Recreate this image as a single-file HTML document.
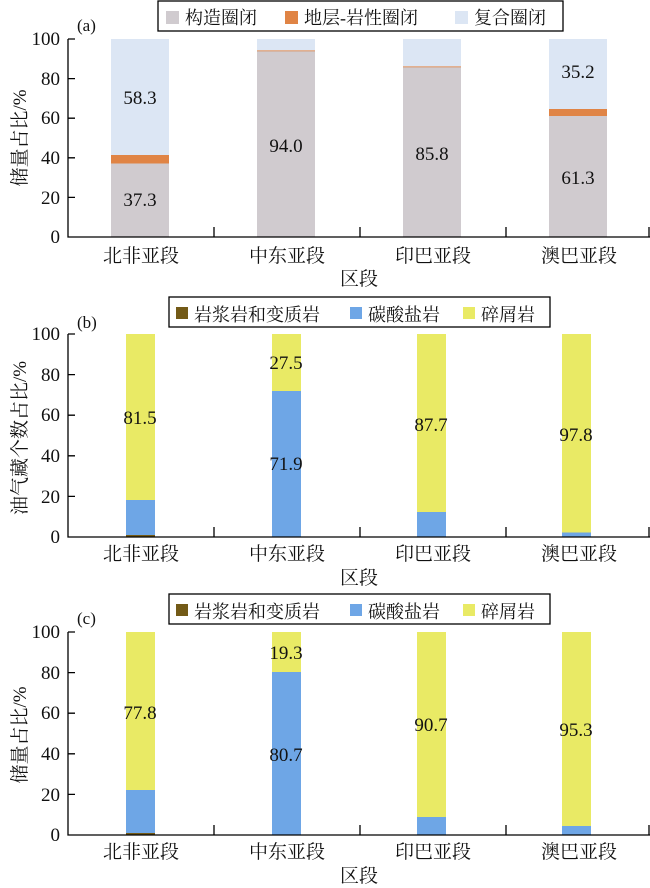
<!DOCTYPE html>
<html><head><meta charset="utf-8"><style>
html,body{margin:0;padding:0;background:#fff;}
svg{display:block;}
</style></head><body>
<svg width="650" height="888" viewBox="0 0 650 888" xmlns="http://www.w3.org/2000/svg" font-family="'Liberation Serif','Noto Serif CJK SC',serif" fill="#111">
<!-- ===== Panel (a) ===== -->
<rect x="158" y="1" width="405" height="30" fill="#fff" stroke="#000" stroke-width="1.3"/>
<rect x="166" y="11" width="13" height="13" fill="#d0cbcf"/>
<text x="185" y="24" font-size="18">构造圈闭</text>
<rect x="285" y="11" width="13" height="13" fill="#e08445"/>
<text x="304" y="24" font-size="18">地层-岩性圈闭</text>
<rect x="455" y="11" width="13" height="13" fill="#dce6f4"/>
<text x="474" y="24" font-size="18">复合圈闭</text>
<text x="77" y="31" font-size="17">(a)</text>
<rect x="111" y="163" width="58" height="74" fill="#d0cbcf"/>
<rect x="111" y="155" width="58" height="8.5" fill="#e08445"/>
<rect x="111" y="39" width="58" height="116" fill="#dce6f4"/>
<rect x="257" y="51" width="58" height="186" fill="#d0cbcf"/>
<rect x="257" y="50.3" width="58" height="1" fill="#e08445"/>
<rect x="257" y="39" width="58" height="11.3" fill="#dce6f4"/>
<rect x="403" y="67" width="58" height="170" fill="#d0cbcf"/>
<rect x="403" y="66.3" width="58" height="1" fill="#e08445"/>
<rect x="403" y="39" width="58" height="27.3" fill="#dce6f4"/>
<rect x="549" y="116" width="58" height="121" fill="#d0cbcf"/>
<rect x="549" y="109" width="58" height="7" fill="#e08445"/>
<rect x="549" y="39" width="58" height="70" fill="#dce6f4"/>
<g font-size="19" text-anchor="middle">
<text x="140" y="206">37.3</text><text x="140" y="104">58.3</text>
<text x="286" y="152">94.0</text><text x="432" y="160">85.8</text>
<text x="578" y="184">61.3</text><text x="578" y="78">35.2</text>
</g>
<g stroke="#000" stroke-width="1.3" fill="none">
<path d="M68 39V237H650"/>
<path d="M68 39h7M68 78.6h7M68 118.2h7M68 157.8h7M68 197.4h7"/>
<path d="M214 237v-10M360 237v-10M506 237v-10M649 237v-10"/>
</g>
<g font-size="19" text-anchor="end">
<text x="60" y="45">100</text><text x="60" y="85">80</text><text x="60" y="124">60</text><text x="60" y="164">40</text><text x="60" y="204">20</text><text x="60" y="243">0</text>
</g>
<g font-size="19" text-anchor="middle">
<text x="141" y="262">北非亚段</text><text x="287" y="262">中东亚段</text><text x="433" y="262">印巴亚段</text><text x="579" y="262">澳巴亚段</text>
<text x="359" y="285">区段</text>
</g>
<text transform="translate(26,138) rotate(-90)" font-size="19" text-anchor="middle">储量占比/%</text>

<!-- ===== Panel (b) ===== -->
<rect x="169" y="297" width="381" height="30" fill="#fff" stroke="#000" stroke-width="1.3"/>
<rect x="176" y="307" width="12" height="12" fill="#735a17"/>
<text x="194" y="321" font-size="18">岩浆岩和变质岩</text>
<rect x="350" y="307" width="12" height="12" fill="#6ea6e6"/>
<text x="368" y="321" font-size="18">碳酸盐岩</text>
<rect x="463" y="307" width="12" height="12" fill="#e9ea65"/>
<text x="481" y="321" font-size="18">碎屑岩</text>
<text x="77" y="328" font-size="17">(b)</text>
<rect x="126" y="334" width="29" height="166" fill="#e9ea65"/>
<rect x="126" y="500" width="29" height="35" fill="#6ea6e6"/>
<rect x="126" y="535" width="29" height="2" fill="#735a17"/>
<rect x="272" y="334" width="29" height="57" fill="#e9ea65"/>
<rect x="272" y="391" width="29" height="146" fill="#6ea6e6"/>
<rect x="417" y="334" width="29" height="178" fill="#e9ea65"/>
<rect x="417" y="512" width="29" height="25" fill="#6ea6e6"/>
<rect x="562" y="334" width="29" height="198.5" fill="#e9ea65"/>
<rect x="562" y="532.5" width="29" height="4.5" fill="#6ea6e6"/>
<g font-size="19" text-anchor="middle">
<text x="140" y="424">81.5</text><text x="286" y="369">27.5</text><text x="286" y="470">71.9</text>
<text x="431" y="431">87.7</text><text x="576" y="441">97.8</text>
</g>
<g stroke="#000" stroke-width="1.3" fill="none">
<path d="M68 334V537H650"/>
<path d="M68 334h7M68 374.6h7M68 415.2h7M68 455.8h7M68 496.4h7"/>
<path d="M214 537v-10M360 537v-10M506 537v-10M649 537v-10"/>
</g>
<g font-size="19" text-anchor="end">
<text x="60" y="340">100</text><text x="60" y="381">80</text><text x="60" y="421">60</text><text x="60" y="462">40</text><text x="60" y="503">20</text><text x="60" y="543">0</text>
</g>
<g font-size="19" text-anchor="middle">
<text x="141" y="560">北非亚段</text><text x="287" y="560">中东亚段</text><text x="433" y="560">印巴亚段</text><text x="579" y="560">澳巴亚段</text>
<text x="359" y="584">区段</text>
</g>
<text transform="translate(26,438) rotate(-90)" font-size="19" text-anchor="middle">油气藏个数占比/%</text>

<!-- ===== Panel (c) ===== -->
<rect x="169" y="594" width="381" height="30" fill="#fff" stroke="#000" stroke-width="1.3"/>
<rect x="176" y="604" width="12" height="12" fill="#735a17"/>
<text x="194" y="618" font-size="18">岩浆岩和变质岩</text>
<rect x="350" y="604" width="12" height="12" fill="#6ea6e6"/>
<text x="368" y="618" font-size="18">碳酸盐岩</text>
<rect x="463" y="604" width="12" height="12" fill="#e9ea65"/>
<text x="481" y="618" font-size="18">碎屑岩</text>
<text x="77" y="624" font-size="17">(c)</text>
<rect x="126" y="632" width="29" height="158" fill="#e9ea65"/>
<rect x="126" y="790" width="29" height="43" fill="#6ea6e6"/>
<rect x="126" y="833" width="29" height="2" fill="#735a17"/>
<rect x="272" y="632" width="29" height="40" fill="#e9ea65"/>
<rect x="272" y="672" width="29" height="163" fill="#6ea6e6"/>
<rect x="417" y="632" width="29" height="185" fill="#e9ea65"/>
<rect x="417" y="817" width="29" height="18" fill="#6ea6e6"/>
<rect x="562" y="632" width="29" height="194" fill="#e9ea65"/>
<rect x="562" y="826" width="29" height="9" fill="#6ea6e6"/>
<g font-size="19" text-anchor="middle">
<text x="140" y="719">77.8</text><text x="286" y="659">19.3</text><text x="286" y="761">80.7</text>
<text x="431" y="731">90.7</text><text x="576" y="736">95.3</text>
</g>
<g stroke="#000" stroke-width="1.3" fill="none">
<path d="M68 632V835H650"/>
<path d="M68 632h7M68 672.6h7M68 713.2h7M68 753.8h7M68 794.4h7"/>
<path d="M214 835v-10M360 835v-10M506 835v-10M649 835v-10"/>
</g>
<g font-size="19" text-anchor="end">
<text x="60" y="638">100</text><text x="60" y="679">80</text><text x="60" y="719">60</text><text x="60" y="760">40</text><text x="60" y="801">20</text><text x="60" y="841">0</text>
</g>
<g font-size="19" text-anchor="middle">
<text x="141" y="858">北非亚段</text><text x="287" y="858">中东亚段</text><text x="433" y="858">印巴亚段</text><text x="579" y="858">澳巴亚段</text>
<text x="359" y="882">区段</text>
</g>
<text transform="translate(26,735) rotate(-90)" font-size="19" text-anchor="middle">储量占比/%</text>
</svg>
</body></html>
